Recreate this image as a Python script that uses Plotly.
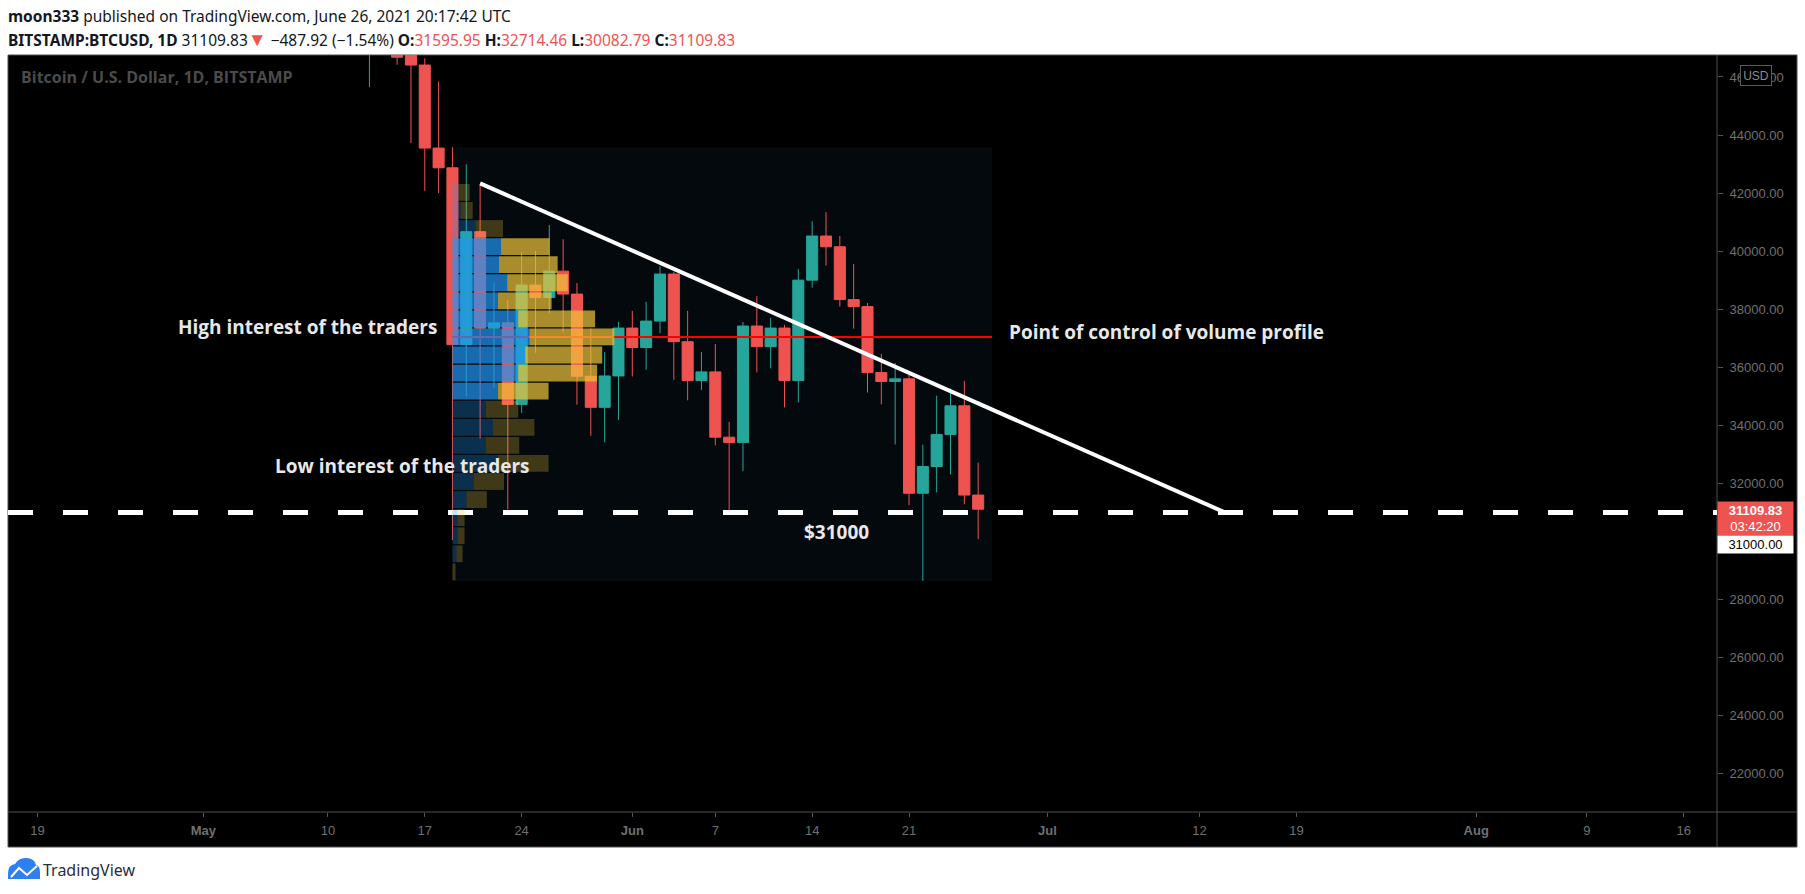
import pandas as pd
import plotly.graph_objects as go

# BITSTAMP:BTCUSD daily candles
dates = pd.date_range("2021-05-10", "2021-06-26", freq="D")
opens = [58240, 55860, 56700, 49450, 49700, 49900, 46800, 46410, 43550, 42870,
         36780, 40670, 37345, 37530, 34720, 38830, 38400, 39310, 38520, 35690,
         34620, 35700, 37350, 36680, 37590, 39210, 36880, 35540, 35840, 33590,
         33410, 37420, 36710, 37350, 35540, 39000, 40520, 40150, 38330, 38090,
         35820, 35510, 35600, 31660, 32580, 33680, 34670, 31595.95]
highs = [59500, 56900, 58000, 51300, 51500, 50700, 49800, 46640, 45840, 43580,
         42990, 42270, 38900, 38320, 39970, 40000, 40900, 40410, 38900, 37340,
         36520, 37560, 37940, 38250, 39480, 39290, 37940, 36530, 36800, 34120,
         37560, 38450, 37700, 37460, 39380, 41030, 41340, 40520, 39560, 38210,
         36460, 36150, 35740, 33330, 35020, 35270, 35530, 32714.46]
lows = [53200, 54400, 48600, 45650, 48800, 46420, 43725, 42075, 42000, 30050,
        35000, 33540, 35290, 31100, 34430, 36500, 37860, 37200, 34710, 33640,
        33410, 34190, 35680, 35910, 37170, 35570, 34860, 35220, 33310, 31050,
        32420, 35820, 35960, 34620, 34790, 38740, 39500, 38090, 37330, 35130,
        34720, 33340, 31250, 28640, 31690, 32310, 31280, 30082.79]
closes = [55860, 56700, 49450, 49700, 49900, 46680, 46410, 43550, 42870, 36780,
          40670, 37345, 37530, 34720, 38830, 38400, 39310, 38520, 35690, 34620,
          35700, 37350, 36680, 37590, 39210, 36880, 35540, 35840, 33590, 33410,
          37420, 36710, 37350, 35540, 39000, 40520, 40150, 38330, 38090, 35820,
          35510, 35600, 31660, 32580, 33680, 34670, 31597.75, 31109.83]

# fixed range volume profile, 24 rows from bottom to top (relative volume)
profile_start = pd.Timestamp("2021-05-19")
profile_end = pd.Timestamp("2021-06-27")
up_volume = [0, 4, 5, 5, 14, 21, 45, 33, 40, 33, 45, 65,
             72, 76, 65, 45, 54, 46, 48, 23, 8, 6, 0, 0]
down_volume = [3, 6, 7, 7, 20, 30, 50, 33, 41, 32, 50, 78,
               76, 84, 76, 53, 60, 58, 48, 27, 12, 11, 0, 0]
value_area_rows = (10, 18)
profile_width = 0.30

# drawings
trend_x = ["2021-05-21 00:00", "2021-07-13 20:00"]
trend_y = [42336, 31000]
support_level = 31000
countdown = "03:42:20"

x_range = ["2021-04-16 21:00", "2021-08-18 09:40"]
y_range = [20679, 46756]
tick_dates = ["2021-04-19", "2021-05-01", "2021-05-10", "2021-05-17", "2021-05-24",
              "2021-06-01", "2021-06-07", "2021-06-14", "2021-06-21", "2021-07-01",
              "2021-07-12", "2021-07-19", "2021-08-01", "2021-08-09", "2021-08-16"]
tick_labels = ["19", "May", "10", "17", "24", "Jun", "7", "14", "21", "Jul",
               "12", "19", "Aug", "9", "16"]
price_ticks = list(range(22000, 46001, 2000))

UP = "#26a69a"
DOWN = "#ef5350"
TEXT = "#e8e8e8"

# page geometry (margins of the plot area, px)
L, R, T, B = 8, 88, 55, 82
W, H = 1805, 894
PW, PH = W - L - R, H - T - B


def px(x):
    return (x - L) / PW


def py(y):
    return (H - B - y) / PH


# profile geometry from the candles inside the range
sel = [i for i, d in enumerate(dates) if d >= profile_start]
box_low = min(lows[i] for i in sel)
box_high = max(highs[i] for i in sel)
n_rows = len(up_volume)
row_h = (box_high - box_low) / n_rows
row_mid = [box_low + (i + 0.5) * row_h for i in range(n_rows)]
totals = [u + d for u, d in zip(up_volume, down_volume)]
poc_row = totals.index(max(totals))
poc_price = row_mid[poc_row]
span_ms = (profile_end - profile_start).total_seconds() * 1000
scale = profile_width * span_ms / max(totals)
up_ms = [u * scale for u in up_volume]
down_ms = [d * scale for d in down_volume]
down_base = [profile_start + pd.Timedelta(milliseconds=u) for u in up_ms]
in_va = [value_area_rows[0] <= i <= value_area_rows[1] for i in range(n_rows)]
up_colors = ["rgba(33,150,243,0.70)" if v else "rgba(33,150,243,0.28)" for v in in_va]
down_colors = ["rgba(240,197,57,0.70)" if v else "rgba(240,197,57,0.26)" for v in in_va]

fig = go.Figure()

fig.add_trace(go.Candlestick(
    x=dates, open=opens, high=highs, low=lows, close=closes,
    increasing=dict(line=dict(color=UP, width=1), fillcolor=UP),
    decreasing=dict(line=dict(color=DOWN, width=1), fillcolor=DOWN),
    whiskerwidth=0, hoverinfo="skip", showlegend=False))

# point of control
fig.add_trace(go.Scatter(
    x=[profile_start, profile_end], y=[poc_price, poc_price], mode="lines",
    line=dict(color="#ff0000", width=2), hoverinfo="skip", showlegend=False))

# $31000 level
fig.add_trace(go.Scatter(
    x=x_range, y=[support_level, support_level], mode="lines",
    line=dict(color="white", width=5, dash="25px,30px"), hoverinfo="skip", showlegend=False))

# trend line
fig.add_trace(go.Scatter(
    x=trend_x, y=trend_y, mode="lines",
    line=dict(color="white", width=4), hoverinfo="skip", showlegend=False))

# volume profile (overlay subplot so it sits above the candles)
fig.add_trace(go.Bar(
    y=row_mid, x=up_ms, base=[profile_start] * n_rows, orientation="h",
    width=row_h * 0.93, marker=dict(color=up_colors, line=dict(width=0)),
    xaxis="x2", yaxis="y2", hoverinfo="skip", showlegend=False))
fig.add_trace(go.Bar(
    y=row_mid, x=down_ms, base=down_base, orientation="h",
    width=row_h * 0.93, marker=dict(color=down_colors, line=dict(width=0)),
    xaxis="x2", yaxis="y2", hoverinfo="skip", showlegend=False))

axis_font = dict(family="Liberation Sans, Arial, sans-serif", size=13, color="#707070")
ticktext = ["<b>%s</b>" % t if t.isalpha() else t for t in tick_labels]

fig.update_layout(
    width=W, height=H,
    margin=dict(l=L, r=R, t=T, b=B),
    paper_bgcolor="white", plot_bgcolor="black",
    showlegend=False, barmode="overlay", boxgap=0.2, boxgroupgap=0,
    xaxis=dict(type="date", range=x_range, tickvals=tick_dates, ticktext=ticktext,
               ticks="outside", ticklen=4, tickcolor="#555555", tickfont=axis_font,
               showgrid=False, zeroline=False, showline=False, fixedrange=True,
               rangeslider=dict(visible=False), ticklabelstandoff=2),
    yaxis=dict(side="right", range=y_range, tickvals=price_ticks,
               ticktext=["%.2f" % p for p in price_ticks],
               ticks="outside", ticklen=5, tickcolor="#555555", tickfont=axis_font,
               showgrid=False, zeroline=False, showline=False, fixedrange=True,
               ticklabelstandoff=4),
    xaxis2=dict(type="date", overlaying="x", range=x_range, visible=False, fixedrange=True),
    yaxis2=dict(overlaying="y", range=y_range, visible=False, fixedrange=True),
)

grey = "#4f4f4f"
shapes = [
    # chart frame incl. axis panels
    dict(type="rect", xref="paper", yref="paper", x0=px(8), x1=px(1797), y0=py(847), y1=py(55),
         fillcolor="black", line=dict(color=grey, width=1), layer="below"),
    dict(type="line", xref="paper", yref="paper", x0=1, x1=1, y0=py(847), y1=1,
         line=dict(color=grey, width=1), layer="below"),
    dict(type="line", xref="paper", yref="paper", x0=0, x1=px(1797), y0=0, y1=0,
         line=dict(color=grey, width=1), layer="below"),
    # profile range background
    dict(type="rect", xref="x", yref="y", x0=profile_start, x1=profile_end,
         y0=box_low, y1=box_high, fillcolor="#04090d", line=dict(width=0), layer="below"),
]

# TradingView logo
cloud = [("M", 8, 879), ("L", 8, 873), ("Q", 8, 865, 15, 864), ("Q", 19, 857, 27, 858),
         ("Q", 35, 859, 36, 865), ("Q", 40, 866, 40, 872), ("L", 40, 879)]
path = ""
for seg in cloud:
    cmd, pts = seg[0], seg[1:]
    coords = " ".join("%.5f,%.5f" % (px(pts[k]), py(pts[k + 1])) for k in range(0, len(pts), 2))
    path += cmd + " " + coords + " "
shapes.append(dict(type="path", xref="paper", yref="paper", path=path + "Z",
                   fillcolor="#2f7ff0", line=dict(width=0), layer="above"))
zig = [(11, 877), (19, 868), (27, 875), (37, 866)]
zpath = "M " + " L ".join("%.5f,%.5f" % (px(a), py(b)) for a, b in zig)
shapes.append(dict(type="path", xref="paper", yref="paper", path=zpath,
                   line=dict(color="white", width=2), layer="above"))
fig.update_layout(shapes=shapes)

# header
last_o, last_h, last_l, last_c = opens[-1], highs[-1], lows[-1], closes[-1]
chg = last_c - closes[-2]
pct = chg / closes[-2] * 100
red = lambda s: "<span style='color:%s'>%s</span>" % (DOWN, s)
line2 = ("<b>BITSTAMP:BTCUSD, 1D</b> %.2f%s %s (%s%%) <b>O:</b>%s <b>H:</b>%s <b>L:</b>%s <b>C:</b>%s"
         % (last_c, "<span style='color:%s;font-size:19px'>▼</span>" % DOWN,
            ("%.2f" % chg).replace("-", "−"), ("%.2f" % pct).replace("-", "−"),
            red("%.2f" % last_o), red("%.2f" % last_h), red("%.2f" % last_l), red("%.2f" % last_c)))
head_font = dict(family="Noto Sans, Open Sans, sans-serif", size=15.5, color="#131722")

ann = [
    dict(text="<b>moon333</b> published on TradingView.com, June 26, 2021 20:17:42 UTC",
         x=px(6), y=py(16), font=head_font),
    dict(text=line2, x=px(6), y=py(39), font=head_font),
    dict(text="<b>Bitcoin / U.S. Dollar, 1D, BITSTAMP</b>", x=px(19), y=py(77),
         font=dict(family="Open Sans, sans-serif", size=16, color="#4b4b4b")),
    dict(text="TradingView", x=px(41), y=py(870),
         font=dict(family="Noto Sans, Open Sans, sans-serif", size=16, color="#2a2e39")),
]
for a in ann:
    a.update(xref="paper", yref="paper", xanchor="left", yanchor="middle", showarrow=False)

label_font = dict(family="Open Sans, sans-serif", size=19, color=TEXT)
texts = [
    ("High interest of the traders", "2021-05-08 12:00", 37386),
    ("Low interest of the traders", "2021-05-15 09:00", 32598),
    ("Point of control of volume profile", "2021-07-09 14:00", 37224),
    ("$31000", "2021-06-15 18:00", 30324),
]
for t, x, y in texts:
    ann.append(dict(text="<b>%s</b>" % t, x=x, y=y, xref="x", yref="y", showarrow=False,
                    xanchor="center", yanchor="middle", font=label_font))

price_font = dict(family="Liberation Sans, Arial, sans-serif", size=13)
ann += [
    dict(text="<b>%.2f</b><br>%s" % (last_c, countdown), x=1, y=last_c, xref="paper", yref="y",
         xanchor="left", yanchor="top", yshift=8.5, width=75, height=33, borderpad=0,
         bgcolor=DOWN, font=dict(price_font, color="white"), showarrow=False),
    dict(text="%.2f" % support_level, x=1, y=support_level, xref="paper", yref="y",
         xanchor="left", yanchor="top", yshift=-22.5, width=75, height=17, borderpad=0,
         bgcolor="white", font=dict(price_font, color="black"), showarrow=False),
    dict(text="USD", x=px(1756), y=py(75), xref="paper", yref="paper", xanchor="center",
         yanchor="middle", width=28, height=17, borderpad=1, bgcolor="black",
         bordercolor="#5a5a5a", borderwidth=1,
         font=dict(family="Liberation Sans, Arial, sans-serif", size=12, color="#8c8c8c"),
         showarrow=False),
]
fig.update_layout(annotations=ann)

fig.write_html("out.html", config={"displayModeBar": False},
               post_script="document.body.style.margin='0px';")
